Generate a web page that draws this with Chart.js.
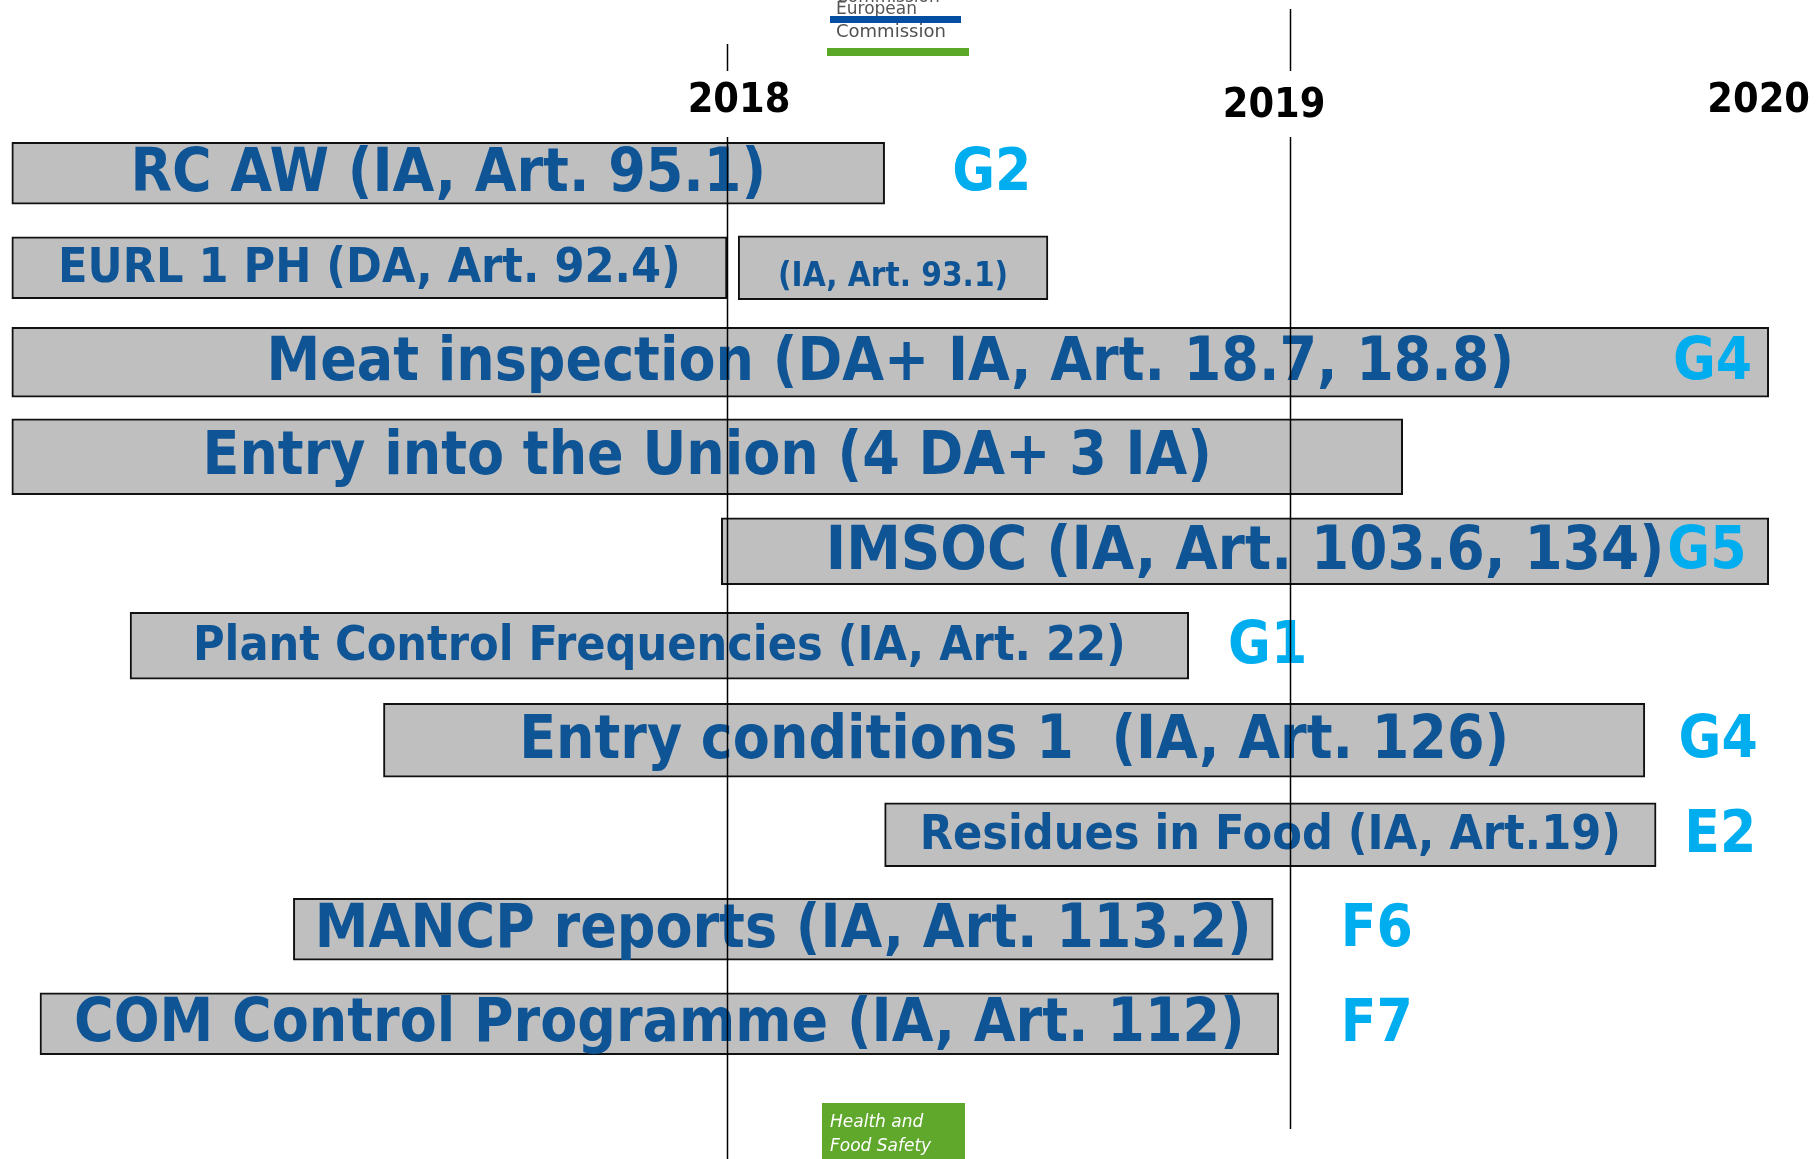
<!DOCTYPE html>
<html>
<head>
<meta charset="utf-8">
<title>Timeline</title>
<script src="https://cdn.jsdelivr.net/npm/chart.js@4.4.1/dist/chart.umd.min.js"></script>
<style>
  html, body { margin:0; padding:0; background:#fff; }
  canvas { display:block; }
</style>
</head>
<body>
<canvas id="chart" width="1816" height="1159"></canvas>
<script>
// rows (top to bottom), bar spans in years
const rows = [
  'RC AW (IA, Art. 95.1)',
  'EURL 1 PH (DA, Art. 92.4)',
  'Meat inspection (DA+ IA, Art. 18.7, 18.8)',
  'Entry into the Union (4 DA+ 3 IA)',
  'IMSOC (IA, Art. 103.6, 134)',
  'Plant Control Frequencies (IA, Art. 22)',
  'Entry conditions 1  (IA, Art. 126)',
  'Residues in Food (IA, Art.19)',
  'MANCP reports (IA, Art. 113.2)',
  'COM Control Programme (IA, Art. 112)'
];
const starts = [2016.73, 2016.73, 2016.73, 2016.73, 2017.99, 2016.94, 2017.39, 2018.28, 2017.23, 2016.78];
const ends   = [2018.28, 2018.00, 2019.85, 2019.20, 2019.85, 2018.82, 2019.63, 2019.65, 2018.97, 2018.98];

// second bar sharing the EURL row
const extraLabel = '(IA, Art. 93.1)';
const extraRow = 1;
const extraStart = 2018.02;
const extraEnd = 2018.57;

// unit codes next to the bars
const codes  = ['G2', '', 'G4', '', 'G5', 'G1', 'G4', 'E2', 'F6', 'F7'];
const codeAt = [2018.40, null, 2019.68, null, 2019.67, 2018.89, 2019.69, 2019.70, 2019.09, 2019.09];

const years = [2018, 2019, 2020];

// styles
const FONT = "'DejaVu Sans Condensed', 'DejaVu Sans', sans-serif";
const PLAIN = "'DejaVu Sans', sans-serif";
const TEXT_BLUE = '#0f5495';
const CODE_BLUE = '#00aeef';
const thick = [62, 62, 70, 76, 67, 67, 74, 64, 62, 62];
const textSize = [60, 48, 60, 60, 61, 48, 60, 48, 60, 60];
const extraThick = 64, extraSize = 33;
const gridSeg = { 2018:[44, 1159], 2019:[9, 1129] };

function rowData(i, a, b){
  return rows.map((_, k) => k === i ? [a, b] : null);
}

const barStyle = { backgroundColor:'#bfbfbf', borderColor:'#111', borderWidth:2, borderSkipped:false, grouped:false };

const datasets = rows.map((name, i) => ({
  label: name,
  data: rowData(i, starts[i], ends[i]),
  barThickness: thick[i],
  ...barStyle,
  _text: name, _size: textSize[i]
}));
datasets.push({
  label: extraLabel,
  data: rowData(extraRow, extraStart, extraEnd),
  barThickness: extraThick,
  ...barStyle,
  _text: extraLabel, _size: extraSize, _dy: 8
});

const barText = {
  id:'barText',
  afterDatasetsDraw(chart){
    const ctx = chart.ctx;
    ctx.save();
    ctx.textAlign = 'center';
    ctx.textBaseline = 'middle';
    chart.data.datasets.forEach((ds, di) => {
      chart.getDatasetMeta(di).data.forEach((bar, k) => {
        if (ds.data[k] == null) return;
        const p = bar.getProps(['x','y','base'], true);
        ctx.fillStyle = TEXT_BLUE;
        ctx.font = 'bold ' + ds._size + 'px ' + FONT;
        ctx.fillText(ds._text, (p.x + p.base) / 2, p.y + 2 + (ds._dy || 0));
      });
    });
    // codes
    const xs = chart.scales.x, ys = chart.scales.y;
    ctx.textAlign = 'left';
    ctx.fillStyle = CODE_BLUE;
    ctx.font = 'bold 58px ' + FONT;
    codes.forEach((c, i) => {
      if (!c) return;
      ctx.fillText(c, xs.getPixelForValue(codeAt[i]), ys.getPixelForValue(i) + 2);
    });
    ctx.restore();
  },
  afterDraw(chart){
    const ctx = chart.ctx, xs = chart.scales.x, W = chart.width;
    ctx.save();
    // year lines, broken around the labels
    ctx.strokeStyle = '#000';
    ctx.lineWidth = 1.5;
    Object.keys(gridSeg).forEach(y => {
      const x = Math.round(xs.getPixelForValue(+y)) + 0.5;
      const [t, b] = gridSeg[y];
      ctx.beginPath();
      ctx.moveTo(x, t); ctx.lineTo(x, 71);
      ctx.moveTo(x, 137); ctx.lineTo(x, b);
      ctx.stroke();
    });
    ctx.font = 'bold 41px ' + FONT;
    ctx.fillStyle = '#000';
    ctx.textAlign = 'center';
    ctx.textBaseline = 'middle';
    years.forEach((y, i) => {
      const w = ctx.measureText(String(y)).width;
      let x = xs.getPixelForValue(y) + (i === 0 ? 12 : -16);
      x = Math.min(x, W - w / 2 - 6);
      ctx.fillText(String(y), x, i === 1 ? 106 : 101);
    });

    // EC logo (top)
    ctx.textAlign = 'left';
    ctx.textBaseline = 'alphabetic';
    ctx.fillStyle = '#555';
    ctx.font = '17px ' + PLAIN;
    ctx.fillText('Commission', 836, 2);
    ctx.fillText('European', 836, 14);
    ctx.fillStyle = '#034ea2';
    ctx.fillRect(830, 16, 131, 7);
    ctx.fillStyle = '#505050';
    ctx.font = '18px ' + PLAIN;
    ctx.fillText('Commission', 836, 37);
    ctx.fillStyle = '#5ba829';
    ctx.fillRect(827, 48, 142, 8);

    // DG SANTE box (bottom)
    ctx.fillStyle = '#5fa82b';
    ctx.fillRect(822, 1103, 143, 56);
    ctx.fillStyle = '#fff';
    ctx.font = 'italic 17px ' + PLAIN;
    ctx.fillText('Health and', 830, 1127);
    ctx.fillText('Food Safety', 830, 1151);
    ctx.restore();
  }
};

new Chart(document.getElementById('chart'), {
  type:'bar',
  data:{ labels: rows, datasets },
  options:{
    indexAxis:'y',
    responsive:false,
    animation:false,
    devicePixelRatio:1,
    layout:{ padding:{ top:126, bottom:88, left:0, right:0 } },
    plugins:{ legend:{ display:false }, tooltip:{ enabled:false }, colors:{ enabled:false } },
    scales:{
      x:{ type:'linear', min:2016.709, max:2019.934, display:false },
      y:{ type:'category', display:false, offset:true }
    }
  },
  plugins:[barText]
});
</script>
</body>
</html>
